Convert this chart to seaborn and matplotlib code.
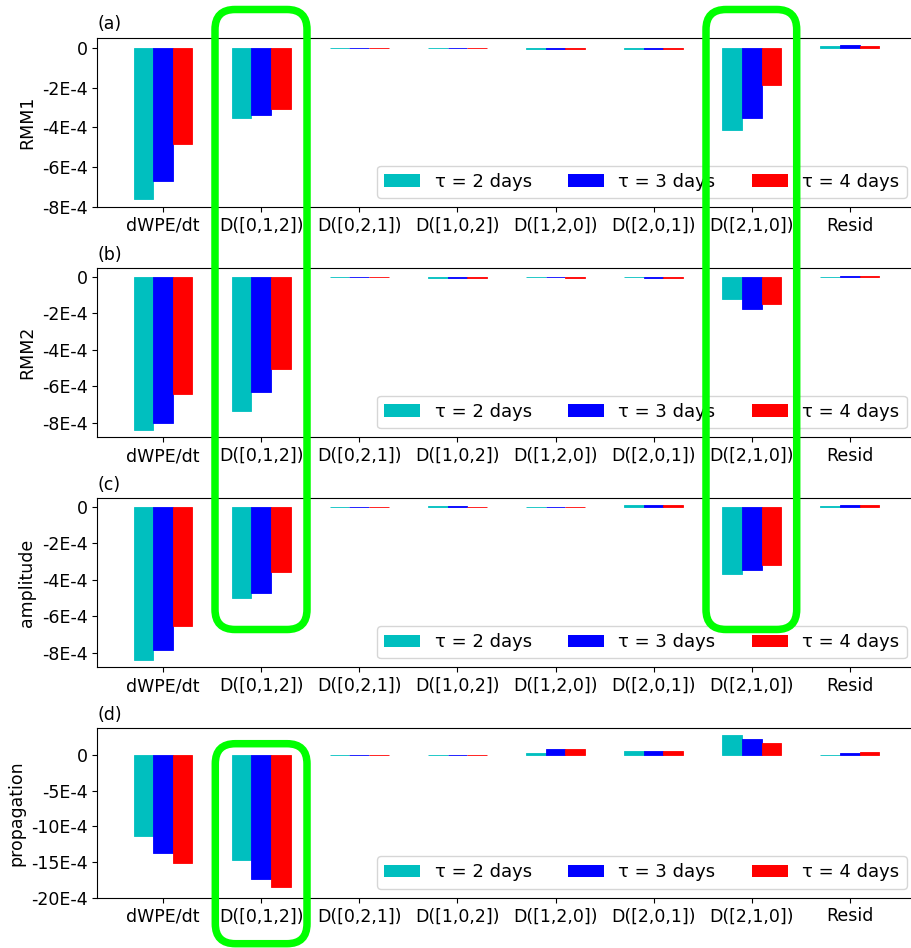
import numpy as np
import pandas as pd
import matplotlib
matplotlib.use("Agg")
import matplotlib.pyplot as plt
from matplotlib.ticker import MultipleLocator, FuncFormatter
from matplotlib.patches import FancyBboxPatch, Patch
from matplotlib.transforms import IdentityTransform
import seaborn as sns

plt.rcParams['font.family'] = ['DejaVu Sans']
plt.rcParams['font.size'] = 12.5

categories = ['dWPE/dt', 'D([0,1,2])', 'D([0,2,1])', 'D([1,0,2])',
              'D([1,2,0])', 'D([2,0,1])', 'D([2,1,0])', 'Resid']
tau_labels = ['τ = 2 days', 'τ = 3 days', 'τ = 4 days']
colors = ['c', 'b', 'r']

rmm1_tau2 = [-7.58e-4, -3.55e-4, -0.02e-4, -0.02e-4, -0.05e-4, -0.05e-4, -4.14e-4, 0.06e-4]
rmm1_tau3 = [-6.69e-4, -3.37e-4, -0.02e-4, -0.02e-4, -0.05e-4, -0.05e-4, -3.55e-4, 0.12e-4]
rmm1_tau4 = [-4.85e-4, -3.10e-4, -0.02e-4, -0.02e-4, -0.05e-4, -0.05e-4, -1.89e-4, 0.10e-4]

rmm2_tau2 = [-8.36e-4, -7.33e-4, -0.02e-4, -0.06e-4, -0.02e-4, -0.02e-4, -1.22e-4, 0.02e-4]
rmm2_tau3 = [-8.00e-4, -6.29e-4, -0.02e-4, -0.06e-4, -0.02e-4, -0.05e-4, -1.78e-4, 0.03e-4]
rmm2_tau4 = [-6.42e-4, -5.02e-4, -0.02e-4, -0.06e-4, -0.06e-4, -0.05e-4, -1.49e-4, 0.07e-4]

amp_tau2 = [-8.40e-4, -4.99e-4, -0.02e-4, 0.05e-4, -0.02e-4, 0.06e-4, -3.69e-4, 0.02e-4]
amp_tau3 = [-7.85e-4, -4.71e-4, -0.02e-4, 0.05e-4, -0.02e-4, 0.06e-4, -3.47e-4, 0.06e-4]
amp_tau4 = [-6.52e-4, -3.60e-4, -0.02e-4, -0.02e-4, -0.02e-4, 0.06e-4, -3.19e-4, 0.06e-4]

prop_tau2 = [-11.36e-4, -14.7e-4, -0.05e-4, -0.05e-4, 0.3e-4, 0.5e-4, 2.8e-4, 0.05e-4]
prop_tau3 = [-13.7e-4, -17.4e-4, -0.05e-4, -0.05e-4, 0.8e-4, 0.6e-4, 2.24e-4, 0.3e-4]
prop_tau4 = [-15.1e-4, -18.5e-4, -0.05e-4, -0.05e-4, 0.8e-4, 0.6e-4, 1.73e-4, 0.45e-4]

panels = [
    ('(a)', 'RMM1', [rmm1_tau2, rmm1_tau3, rmm1_tau4], 2e-4, (-8.0e-4, 0.50e-4)),
    ('(b)', 'RMM2', [rmm2_tau2, rmm2_tau3, rmm2_tau4], 2e-4, (-8.78e-4, 0.49e-4)),
    ('(c)', 'amplitude', [amp_tau2, amp_tau3, amp_tau4], 2e-4, (-8.80e-4, 0.46e-4)),
    ('(d)', 'propagation', [prop_tau2, prop_tau3, prop_tau4], 5e-4, (-20.0e-4, 3.74e-4)),
]


def fmt(v, pos):
    n = int(round(v / 1e-4))
    return '0' if n == 0 else f'{n}E-4'


fig, axes = plt.subplots(4, 1, figsize=(9.12, 9.48), dpi=100)
fig.subplots_adjust(left=0.1067, right=1.004, top=0.9602, bottom=0.0531, hspace=0.359)

for ax, (tag, ylabel, series, step, ylim) in zip(axes, panels):
    rows = []
    for lab, vals in zip(tau_labels, series):
        for cat, v in zip(categories, vals):
            rows.append({'component': cat, 'tau': lab, 'value': v})
    df = pd.DataFrame(rows)
    sns.barplot(data=df, x='component', y='value', hue='tau', order=categories,
                hue_order=tau_labels, palette=colors, width=0.6, saturation=1,
                errorbar=None, linewidth=0.6, legend=False, ax=ax)
    for cont in ax.containers:
        for patch in cont:
            patch.set_edgecolor(patch.get_facecolor())
    ax.set_xlim(-0.67, 7.67)
    ax.set_ylim(*ylim)
    ax.yaxis.set_major_locator(MultipleLocator(step))
    ax.yaxis.set_major_formatter(FuncFormatter(fmt))
    ax.set_xlabel('')
    ax.set_ylabel(ylabel)
    ax.set_title(tag, loc='left', fontsize=12.5)
    handles = [Patch(facecolor=c, edgecolor='none') for c in colors]
    ax.legend(handles, tau_labels, ncol=3, loc='lower right', fontsize=13)

# green highlight boxes (pixel coordinates, origin bottom-left)
H = 948
boxes = [(215, 307, 9.5, 629.5), (706, 796.7, 9.5, 629.5), (215.3, 307, 743.7, 943.7)]
for x0, x1, ytop, ybot in boxes:
    p = FancyBboxPatch((x0, H - ybot), x1 - x0, ybot - ytop,
                       boxstyle='round,pad=0,rounding_size=20',
                       transform=IdentityTransform(), facecolor='none',
                       edgecolor='#00ff00', linewidth=5.4, zorder=10)
    fig.add_artist(p)

fig.savefig('out.png', dpi=100)
